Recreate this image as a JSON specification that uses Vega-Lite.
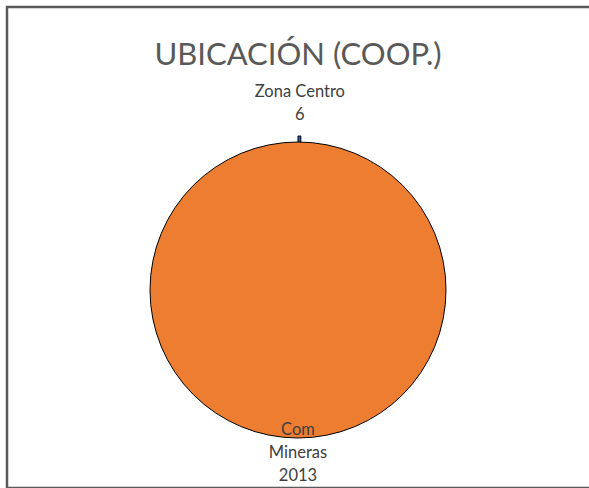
{
  "$schema": "https://vega.github.io/schema/vega-lite/v6.json",
  "autosize": {"type": "none"},
  "width": 582,
  "height": 396,
  "padding": {"left": 7, "top": 92, "right": 0, "bottom": 0},
  "background": "white",
  "title": {
    "text": "UBICACIÓN (COOP.)",
    "anchor": "middle",
    "baseline": "alphabetic",
    "offset": -90,
    "font": "Lato",
    "fontSize": 31,
    "fontWeight": "normal",
    "color": "#595959"
  },
  "data": {
    "values": [
      {"cat": "Zona Centro", "value": 6, "order": 1, "label": ["Zona Centro", "6"]},
      {"cat": "Com Mineras", "value": 2013, "order": 2, "label": ["Com", "Mineras", "2013"]}
    ]
  },
  "layer": [
    {
      "data": {"values": [{"frame": 1}]},
      "mark": {"type": "rect", "fill": null, "stroke": "#5a5a5a", "strokeWidth": 2.5, "xOffset": 1.5, "x2Offset": 20, "yOffset": -85, "y2Offset": 20},
      "encoding": {}
    },
    {
      "mark": {"type": "arc", "stroke": "black", "strokeWidth": 1, "innerRadius": 0},
      "encoding": {
        "theta": {"field": "value", "type": "quantitative", "stack": true},
        "order": {"field": "order", "type": "quantitative"},
        "radius": {
          "field": "cat",
          "type": "ordinal",
          "scale": {"type": "ordinal", "domain": ["Zona Centro", "Com Mineras"], "range": [157, 145]},
          "legend": null
        },
        "radius2": {"value": 0},
        "color": {
          "field": "cat",
          "type": "nominal",
          "scale": {"domain": ["Zona Centro", "Com Mineras"], "range": ["#2f5fc4", "#ed7d31"]},
          "legend": null
        }
      }
    },
    {
      "mark": {"type": "text", "font": "Lato", "fontSize": 16.5, "color": "#404040", "baseline": "middle", "align": "center", "lineHeight": 23},
      "encoding": {
        "theta": {"field": "value", "type": "quantitative", "stack": true},
        "order": {"field": "order", "type": "quantitative"},
        "radius": {
          "field": "cat",
          "type": "ordinal",
          "scale": {"type": "ordinal", "domain": ["Zona Centro", "Com Mineras"], "range": [198, 140]},
          "legend": null
        },
        "text": {"field": "label"}
      }
    }
  ],
  "resolve": {"scale": {"radius": "independent"}}
}
